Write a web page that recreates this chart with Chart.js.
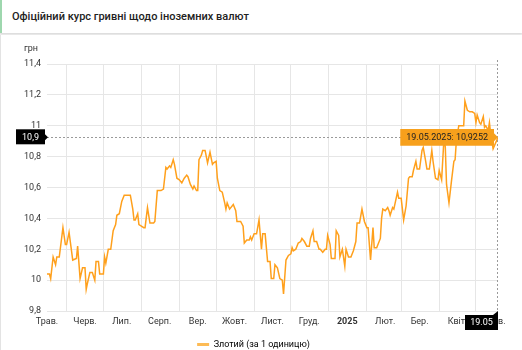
<!DOCTYPE html>
<html lang="uk">
<head>
<meta charset="utf-8">
<title>Офіційний курс гривні щодо іноземних валют</title>
<script src="https://cdn.jsdelivr.net/npm/chart.js@4.4.1/dist/chart.umd.min.js"></script>
<style>
    html, body { margin: 0; padding: 0; background: #f2f2f2; }
    body { width: 522px; height: 350px; overflow: hidden; position: relative; font-family: Roboto, "Noto Sans", sans-serif; }
    .header {
        position: absolute; left: 0; top: 0; width: 520px; height: 33px;
        background: #fff; border-left: 2px solid #9ed7ae;
        box-shadow: 0 1px 2px rgba(0, 0, 0, 0.12);
    }
    .header h1 {
        margin: 0; padding-left: 10px; line-height: 33px;
        font-size: 11px; font-weight: 500; color: #222;
    }
    .card {
        position: absolute; left: 0; top: 35px; width: 521px; height: 324px;
        background: #fff; border-left: 1px solid #e3e3e3;
    }
    canvas { display: block; }
</style>
</head>
<body>
<div class="header"><h1>Офіційний курс гривні щодо іноземних валют</h1></div>
<div class="card"><canvas id="rate-chart" width="521" height="324"></canvas></div>
<script>
// дні від 16.05.2024
const startDate = Date.UTC(2024, 4, 16);
const dayOffsets = [
    0, 2, 3, 5, 7, 8, 10, 13, 15, 16, 18, 21, 24, 25, 27, 29, 31, 32, 33, 35,
    37, 39, 40, 42, 43, 46, 47, 48, 50, 52, 54, 56, 57, 59, 61, 63, 66, 68, 70, 71,
    72, 74, 75, 77, 79, 80, 82, 84, 87, 88, 90, 92, 93, 95, 97, 98, 100, 101, 103, 104,
    106, 108, 110, 112, 114, 115, 117, 119, 120, 122, 123, 124, 126, 127, 129, 131, 133, 135, 136, 138,
    139, 141, 143, 145, 146, 147, 149, 152, 154, 155, 158, 160, 161, 163, 165, 166, 167, 169, 171, 173,
    175, 176, 178, 180, 182, 183, 185, 186, 188, 190, 192, 193, 195, 197, 199, 200, 201, 203, 205, 207,
    208, 210, 212, 214, 215, 217, 218, 220, 222, 223, 225, 227, 228, 229, 231, 232, 235, 236, 238, 239,
    241, 243, 244, 246, 248, 250, 252, 253, 255, 257, 259, 261, 262, 264, 266, 267, 269, 272, 273, 274,
    276, 278, 279, 280, 282, 283, 286, 287, 289, 291, 293, 295, 296, 298, 299, 301, 302, 304, 306, 307,
    309, 310, 312, 314, 315, 317, 319, 320, 322, 324, 325, 326, 328, 330, 332, 333, 334, 336, 337, 340,
    341, 343, 345, 347, 349, 350, 351, 353, 354, 356, 357, 358, 360, 361, 362, 364, 368
];
const rates = [
    10.04, 10.04, 10.01, 10.15, 10.10, 10.15, 10.15, 10.34, 10.23, 10.23, 10.31, 10.13, 10.14, 10.22, 10.01, 10.08, 10.08, 9.94, 9.98, 10.05,
    10.05, 10.00, 10.12, 10.12, 10.04, 10.04, 10.15, 10.11, 10.20, 10.20, 10.32, 10.36, 10.42, 10.43, 10.51, 10.55, 10.55, 10.55, 10.46, 10.39,
    10.39, 10.43, 10.36, 10.35, 10.34, 10.34, 10.47, 10.37, 10.37, 10.38, 10.58, 10.58, 10.58, 10.59, 10.73, 10.72, 10.74, 10.73, 10.78, 10.75,
    10.66, 10.65, 10.63, 10.66, 10.68, 10.67, 10.62, 10.59, 10.61, 10.58, 10.58, 10.78, 10.81, 10.84, 10.84, 10.76, 10.83, 10.75, 10.76, 10.77,
    10.66, 10.58, 10.57, 10.50, 10.46, 10.50, 10.46, 10.49, 10.45, 10.38, 10.38, 10.35, 10.24, 10.26, 10.26, 10.28, 10.26, 10.30, 10.30, 10.39,
    10.20, 10.30, 10.30, 10.12, 10.12, 10.01, 10.01, 10.10, 10.08, 10.01, 10.00, 9.91, 10.13, 10.16, 10.17, 10.21, 10.19, 10.20, 10.24, 10.25,
    10.27, 10.25, 10.22, 10.22, 10.27, 10.32, 10.25, 10.25, 10.20, 10.20, 10.18, 10.20, 10.20, 10.29, 10.23, 10.14, 10.14, 10.32, 10.29, 10.15,
    10.20, 10.09, 10.20, 10.15, 10.15, 10.19, 10.25, 10.37, 10.37, 10.46, 10.38, 10.34, 10.34, 10.13, 10.34, 10.21, 10.21, 10.27, 10.40, 10.46,
    10.45, 10.47, 10.45, 10.42, 10.47, 10.46, 10.57, 10.53, 10.53, 10.39, 10.48, 10.66, 10.67, 10.67, 10.71, 10.77, 10.72, 10.72, 10.84, 10.86,
    10.77, 10.72, 10.72, 10.84, 10.77, 10.66, 10.65, 10.71, 10.65, 10.93, 10.86, 10.62, 10.50, 10.64, 10.77, 10.78, 10.90, 11.00, 11.00, 11.00,
    11.16, 11.10, 11.09, 11.09, 11.08, 11.02, 11.07, 11.02, 11.01, 11.06, 10.99, 11.00, 10.97, 11.02, 10.95, 10.85, 10.9252
];
const monthNames = ['Січ.', 'Лют.', 'Бер.', 'Квіт.', 'Трав.', 'Черв.', 'Лип.', 'Серп.', 'Вер.', 'Жовт.', 'Лист.', 'Груд.'];
const yTicks = [9.8, 10, 10.2, 10.4, 10.6, 10.8, 11, 11.2, 11.4];
const seriesLabel = 'Злотий (за 1 одиницю)';

const lineColor = '#ffa01c';
const DAY = 86400000;

function dayOf(y, m, d) {
    return Math.round((Date.UTC(y, m, d) - startDate) / DAY);
}

function formatDate(offset, withYear) {
    const dt = new Date(startDate + offset * DAY);
    const dd = String(dt.getUTCDate()).padStart(2, '0');
    const mm = String(dt.getUTCMonth() + 1).padStart(2, '0');
    return withYear ? `${dd}.${mm}.${dt.getUTCFullYear()}` : `${dd}.${mm}`;
}

function formatNum(v) {
    return String(v).replace('.', ',');
}

// сітка на початку місяця, підпис посередині місяця
function buildMonthTicks() {
    const ticks = [];
    for (let i = 0; i < 13; i++) {
        const y = 2024 + Math.floor((4 + i) / 12);
        const m = (4 + i) % 12;
        if (i > 0) ticks.push({ value: dayOf(y, m, 1), grid: true, text: '' });
        const text = m === 0 ? String(y) : monthNames[m];
        ticks.push({ value: dayOf(y, m, 16), grid: false, text, bold: m === 0 });
    }
    return ticks;
}

const lastIndex = rates.length - 1;
const lastDay = dayOffsets[lastIndex];
const lastRate = rates[lastIndex];

const crosshairPlugin = {
    id: 'crosshair',
    afterDatasetsDraw(chart) {
        const { ctx, chartArea, scales } = chart;
        const px = scales.x.getPixelForValue(lastDay);
        const py = scales.y.getPixelForValue(lastRate);

        ctx.save();
        ctx.strokeStyle = '#9a9a9a';
        ctx.lineWidth = 1;
        ctx.setLineDash([2, 2]);
        ctx.beginPath();
        ctx.moveTo(chartArea.left, Math.round(py) + 0.5);
        ctx.lineTo(px, Math.round(py) + 0.5);
        ctx.moveTo(Math.round(px) - 0.5, chartArea.top - 4);
        ctx.lineTo(Math.round(px) - 0.5, chartArea.bottom + 4);
        ctx.stroke();
        ctx.setLineDash([]);

        ctx.font = '9px Roboto';
        ctx.textAlign = 'center';
        ctx.textBaseline = 'middle';

        // мітка на осі Y
        const bx = chartArea.left - 31;
        ctx.fillStyle = '#000';
        ctx.fillRect(bx, py - 8, 29, 15);
        ctx.beginPath();
        ctx.moveTo(bx + 29, py - 3);
        ctx.lineTo(bx + 32, py);
        ctx.lineTo(bx + 29, py + 3);
        ctx.fill();
        ctx.fillStyle = '#fff';
        ctx.fillText(formatNum(Number(lastRate.toFixed(1))), bx + 14.5, py);

        // мітка на осі X
        const ty = chartArea.bottom + 4;
        ctx.fillStyle = '#000';
        ctx.fillRect(px - 33, ty, 33, 15);
        ctx.beginPath();
        ctx.moveTo(px - 5, ty);
        ctx.lineTo(px, ty - 4);
        ctx.lineTo(px, ty);
        ctx.fill();
        ctx.fillStyle = '#fff';
        ctx.fillText(formatDate(lastDay, false), px - 16.5, ty + 7.5);

        // одиниця виміру
        ctx.fillStyle = '#333';
        ctx.fillText('грн', chartArea.left - 16, chartArea.top - 15);
        ctx.restore();
    }
};

Chart.defaults.font.family = 'Roboto';
Chart.defaults.font.size = 9;
Chart.defaults.color = '#333';

const ctx = document.getElementById('rate-chart');
const chart = new Chart(ctx, {
    type: 'line',
    data: {
        datasets: [{
            label: seriesLabel,
            data: dayOffsets.map((d, i) => ({ x: d, y: rates[i] })),
            borderColor: lineColor,
            backgroundColor: '#fdbb55',
            borderWidth: 1.5,
            pointRadius: 0,
            pointHoverRadius: 0,
            tension: 0
        }]
    },
    options: {
        responsive: false,
        animation: false,
        events: [],
        layout: { padding: { left: 8, right: 24, top: 29, bottom: 0 } },
        scales: {
            x: {
                type: 'linear',
                min: 0,
                max: lastDay,
                afterBuildTicks: scale => { scale.ticks = buildMonthTicks(); },
                afterFit: scale => { scale.height = 24; },
                border: { display: false },
                grid: {
                    drawTicks: false,
                    color: c => (c.tick && c.tick.grid ? '#e6e6e6' : 'rgba(0,0,0,0)')
                },
                ticks: {
                    autoSkip: false,
                    maxRotation: 0,
                    padding: 5,
                    color: '#333',
                    font: c => ({ size: 9, weight: c.tick && c.tick.bold ? 'bold' : 'normal' }),
                    callback: function(value, index, ticks) {
                        return ticks[index].text;
                    }
                }
            },
            y: {
                min: 9.8,
                max: 11.4,
                afterBuildTicks: scale => { scale.ticks = yTicks.map(v => ({ value: v })); },
                afterFit: scale => { scale.width = 38; },
                border: { display: false },
                grid: { drawTicks: false, color: '#e6e6e6' },
                ticks: {
                    padding: 6,
                    color: '#333',
                    callback: value => formatNum(Number(value.toFixed(1)))
                }
            }
        },
        plugins: {
            legend: {
                position: 'bottom',
                labels: {
                    padding: 5,
                    boxWidth: 12,
                    boxHeight: 3,
                    color: '#333',
                    font: { size: 9 },
                    generateLabels: function(chart) {
                        const ds = chart.data.datasets[0];
                        return [{
                            text: ds.label,
                            fillStyle: ds.backgroundColor,
                            strokeStyle: ds.backgroundColor,
                            lineWidth: 0,
                            datasetIndex: 0
                        }];
                    }
                }
            },
            tooltip: {
                backgroundColor: '#f7a01c',
                bodyColor: '#222',
                bodyFont: { size: 9 },
                displayColors: false,
                xAlign: 'right',
                yAlign: 'center',
                caretSize: 4,
                caretPadding: 0,
                cornerRadius: 0,
                padding: { x: 6, y: 3 },
                callbacks: {
                    title: () => '',
                    label: c => `${formatDate(c.parsed.x, true)}: ${formatNum(c.parsed.y)}`
                }
            }
        }
    },
    plugins: [crosshairPlugin]
});

const meta = chart.getDatasetMeta(0);
const lastPoint = meta.data[lastIndex];
chart.tooltip.setActiveElements([{ datasetIndex: 0, index: lastIndex }], { x: lastPoint.x, y: lastPoint.y });
chart.update();
</script>
</body>
</html>
